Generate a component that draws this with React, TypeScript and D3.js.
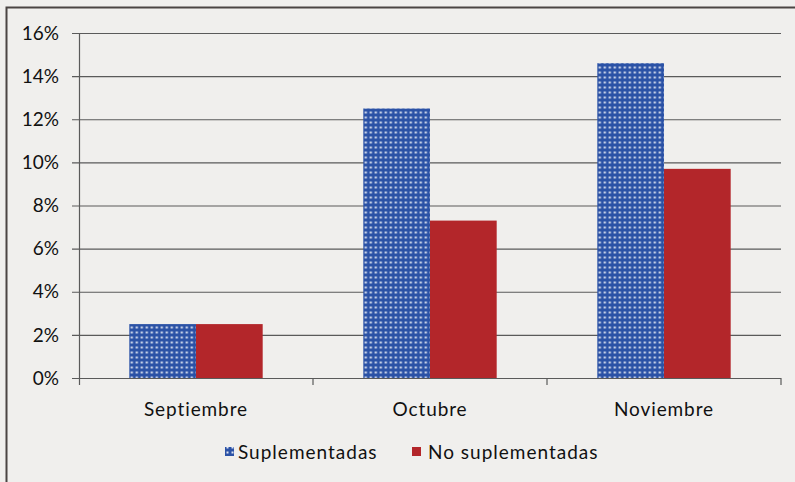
import React from 'react';
import * as d3 from 'd3';

const months = ['Septiembre', 'Octubre', 'Noviembre'];
const suplementadas = [2.5, 12.5, 14.6];
const noSuplementadas = [2.5, 7.3, 9.7];
const seriesNames = ['Suplementadas', 'No suplementadas'];
const yTicks = [0, 2, 4, 6, 8, 10, 12, 14, 16];

const W = 795;
const H = 482;
const left = 79;
const right = 781;
const top = 33;
const bottom = 378;
const font = 'Lato, "Open Sans", sans-serif';
const blue = '#2b52a6';
const red = '#b3262a';

const App = () => {
  const x = d3.scaleBand().domain(months).range([left, right]).paddingInner(0.43).paddingOuter(0.215);
  const inner = d3.scaleBand().domain(seriesNames).range([0, x.bandwidth()]);
  const y = d3.scaleLinear().domain([0, 16]).range([bottom, top]);
  const step = (right - left) / months.length;

  const rows = months.map((m, i) => ({ m, vals: [suplementadas[i], noSuplementadas[i]] }));

  return (
    <svg width={W} height={H} style={{ position: 'absolute', left: 0, top: 0 }}>
      <defs>
        <pattern id="dots" width={5} height={5} patternUnits="userSpaceOnUse">
          <rect width={5} height={5} fill={blue} />
          <rect x={1.5} y={1.5} width={2} height={2} fill="#ffffff" opacity={0.85} />
        </pattern>
      </defs>
      <rect x={0} y={0} width={W} height={H} fill="#f0efed" />
      <path d={`M6.5,${H} V7.5 H${W}`} fill="none" stroke="#4a4543" strokeWidth={2} />

      {yTicks.map(t => (
        <g key={t}>
          <line x1={72} x2={right} y1={y(t) + 0.5} y2={y(t) + 0.5} stroke="#5a5a5a" strokeWidth={1.2} />
          <text x={59} y={y(t)} dy="0.35em" textAnchor="end" fontFamily={font} fontSize={19} fill="#111">
            {t}%
          </text>
        </g>
      ))}
      <line x1={left + 0.5} x2={left + 0.5} y1={top} y2={bottom + 7} stroke="#5a5a5a" strokeWidth={1.2} />
      {months.map((m, i) => (
        <line key={m} x1={left + step * (i + 1)} x2={left + step * (i + 1)} y1={bottom} y2={bottom + 7} stroke="#5a5a5a" strokeWidth={1.2} />
      ))}

      {rows.map(r => (
        <g key={r.m} transform={`translate(${x(r.m)},0)`}>
          {r.vals.map((v, j) => (
            <rect
              key={j}
              x={inner(seriesNames[j])}
              y={y(v)}
              width={inner.bandwidth()}
              height={bottom - y(v)}
              fill={j === 0 ? 'url(#dots)' : red}
            />
          ))}
          <text x={x.bandwidth() / 2} y={409} dy="0.35em" textAnchor="middle" fontFamily={font} fontSize={19} letterSpacing={0.9} fill="#111">
            {r.m}
          </text>
        </g>
      ))}

      <g fontFamily={font} fontSize={19} letterSpacing={1} fill="#111">
        <rect x={225} y={447} width={9} height={9} fill="url(#dots)" />
        <text x={238} y={452} dy="0.35em">{seriesNames[0]}</text>
        <rect x={412} y={447} width={9} height={9} fill={red} />
        <text x={428} y={452} dy="0.35em">{seriesNames[1]}</text>
      </g>
    </svg>
  );
};

export default App;
